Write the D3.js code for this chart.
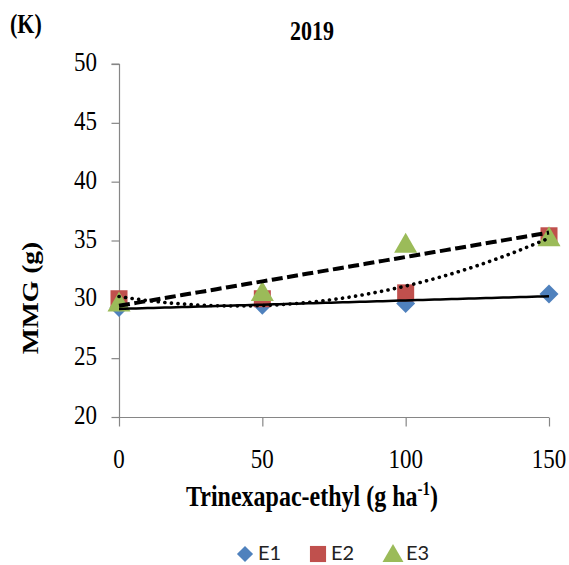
<!DOCTYPE html>
<html>
<head>
<meta charset="utf-8">
<script src="https://cdn.jsdelivr.net/npm/d3@7"></script>
<style>
  html, body { margin: 0; padding: 0; background: #fff; }
  svg { display: block; }
</style>
</head>
<body>
<svg id="chart" width="569" height="565"></svg>
<script>
// Trinexapac-ethyl dose (g ha-1)
const doses = [0, 50, 100, 150];
// MMG (g) per environment
const e1 = [29.3, 29.5, 29.65, 30.45];
const e2 = [30.05, 30.05, 30.55, 35.4];
const e3 = [29.7, 30.6, 34.7, 35.25];
const seriesNames = ["E1", "E2", "E3"];
const seriesColors = ["#4F81BD", "#C0504D", "#9BBB59"];
const xTicks = [0, 50, 100, 150];
const yTicks = [20, 25, 30, 35, 40, 45, 50];

const svg = d3.select("#chart");
const serif = "'Liberation Serif', 'Times New Roman', serif";
const stretch = 1.2; // glyphs are drawn taller than wide

const x = d3.scaleLinear().domain([0, 150]).range([119, 549]);
const y = d3.scaleLinear().domain([20, 50]).range([417, 64]);

// stretched text helper
function label(tx, ty, str, opts = {}) {
  const sy = opts.stretch === undefined ? stretch : opts.stretch;
  const t = svg.append("text")
    .attr("transform", `translate(${tx},${ty}) scale(1,${sy})` + (opts.rotate ? ` rotate(${opts.rotate})` : ""))
    .attr("font-family", opts.family || serif)
    .attr("font-size", opts.size || 23)
    .attr("font-weight", opts.bold ? "bold" : "normal")
    .attr("text-anchor", opts.anchor || "start")
    .attr("fill", "#000");
  if (str !== null) t.text(str);
  return t;
}

// axes
const axisColor = "#868686";
const yAxis = d3.axisLeft(y).tickValues(yTicks).tickSize(8).tickFormat("");
const xAxis = d3.axisBottom(x).tickValues(xTicks).tickSize(9).tickFormat("");

const gy = svg.append("g").attr("transform", `translate(${x(0)},0)`).call(yAxis);
const gx = svg.append("g").attr("transform", `translate(0,${y(20)})`).call(xAxis);
[gx, gy].forEach(g => {
  g.select(".domain").attr("stroke", axisColor).attr("stroke-width", 1.2);
  g.selectAll(".tick line").attr("stroke", axisColor).attr("stroke-width", 1.2);
});
gy.select(".domain").attr("d", `M0.5,${y(50)}H-7.5M0.5,${y(50)}V${y(20)}`);
gx.select(".domain").attr("d", `M${x(0)},0.5H${x(150)}`);
gy.selectAll(".tick line").attr("transform", "translate(0.5,0)");
gx.selectAll(".tick line").attr("transform", "translate(0,0.5)");

// tick labels
yTicks.forEach(v => label(97, y(v) + 7, String(v), { anchor: "end" }));
xTicks.forEach(v => label(x(v), 468, String(v), { anchor: "middle" }));

// titles
label(10, 33, "(K)", { bold: true, size: 22 });
label(290, 40, "2019", { bold: true, size: 22 });
const xt = label(312, 506, null, { bold: true, size: 24, anchor: "middle" });
xt.append("tspan").text("Trinexapac-ethyl (g ha");
xt.append("tspan").attr("font-size", 15).attr("dy", -9).text("-1");
xt.append("tspan").attr("dy", 9).text(")");
label(38, 298, "MMG (g)", { bold: true, size: 23, anchor: "middle", rotate: -90 });

// marker shapes: diamond is a square turned 45 degrees
const markerShape = [d3.symbolSquare, d3.symbolSquare, d3.symbolTriangle];
const markerRotate = [45, 0, 0];
const markerSize = [180, 290, 230];
const markerOffset = [0, 0, 2];

const series = [e1, e2, e3];
series.forEach((vals, i) => {
  svg.append("g").selectAll("path")
    .data(doses.map((d, j) => [d, vals[j]]))
    .join("path")
    .attr("d", d3.symbol(markerShape[i], markerSize[i]))
    .attr("transform", d => `translate(${x(d[0])},${y(d[1]) + markerOffset[i]}) rotate(${markerRotate[i]})`)
    .attr("fill", seriesColors[i]);
});

// least squares polynomial fit
function polyfit(xs, ys, order) {
  const n = order + 1;
  const A = Array.from({ length: n }, () => new Array(n + 1).fill(0));
  for (let r = 0; r < n; r++) {
    for (let c = 0; c < n; c++) A[r][c] = d3.sum(xs, xv => Math.pow(xv, r + c));
    A[r][n] = d3.sum(xs, (xv, k) => Math.pow(xv, r) * ys[k]);
  }
  for (let p = 0; p < n; p++) {
    for (let r = p + 1; r < n; r++) {
      const f = A[r][p] / A[p][p];
      for (let c = p; c <= n; c++) A[r][c] -= f * A[p][c];
    }
  }
  const coef = new Array(n).fill(0);
  for (let r = n - 1; r >= 0; r--) {
    let s = A[r][n];
    for (let c = r + 1; c < n; c++) s -= A[r][c] * coef[c];
    coef[r] = s / A[r][r];
  }
  return xv => coef.reduce((acc, c, k) => acc + c * Math.pow(xv, k), 0);
}

// trend lines: linear for E1 and E3, quadratic for E2
const trend = [
  { vals: e1, order: 1, dash: null, width: 2.5, cap: "butt" },
  { vals: e2, order: 2, dash: "0.1,6.5", width: 3.6, cap: "round" },
  { vals: e3, order: 1, dash: "11,4.5", width: 4, cap: "butt" }
];
const line = d3.line().x(d => x(d[0])).y(d => y(d[1]));
const xs = d3.range(0, 150.01, 2);
trend.forEach(t => {
  const f = polyfit(doses, t.vals, t.order);
  svg.append("path")
    .datum(xs.map(v => [v, f(v)]))
    .attr("d", line)
    .attr("fill", "none")
    .attr("stroke", "#000")
    .attr("stroke-width", t.width)
    .attr("stroke-linecap", t.cap)
    .attr("stroke-dasharray", t.dash);
});

// legend
const legendX = [245, 318, 393];
const legendSize = [130, 260, 190];
seriesNames.forEach((name, i) => {
  svg.append("path")
    .attr("d", d3.symbol(markerShape[i], legendSize[i]))
    .attr("transform", `translate(${legendX[i]},${554 + (i === 2 ? 2 : 0)}) rotate(${markerRotate[i]})`)
    .attr("fill", seriesColors[i]);
  label(legendX[i] + 13, 560, name, { family: "Lato, 'Liberation Sans', sans-serif", size: 20, anchor: "start", stretch: 1 })
    .attr("fill", "#222");
});
</script>
</body>
</html>
